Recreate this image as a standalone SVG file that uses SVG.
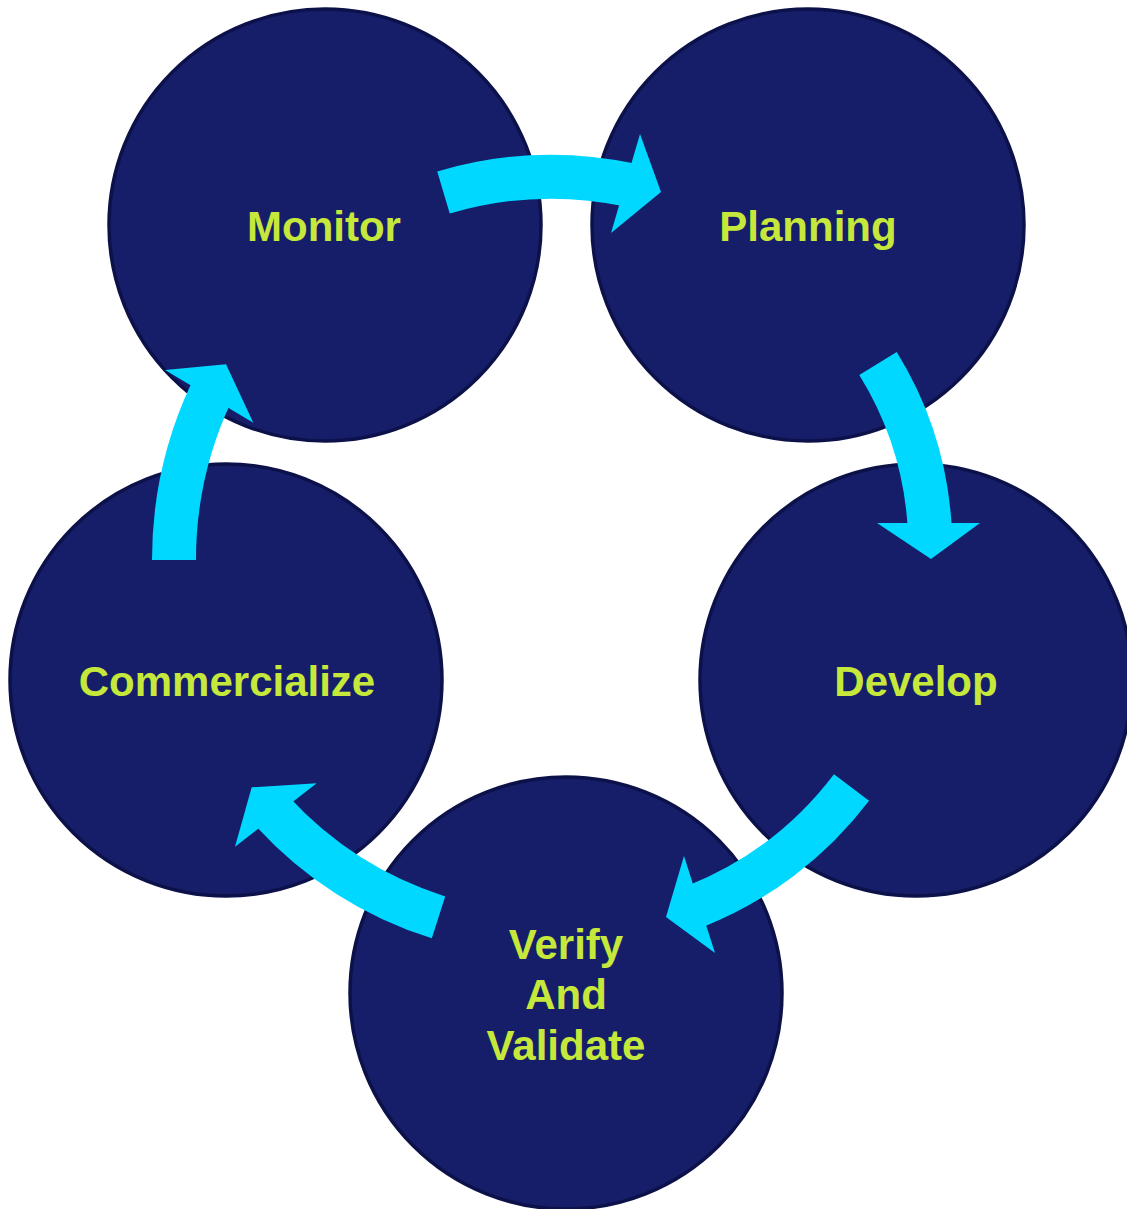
<svg xmlns="http://www.w3.org/2000/svg" width="1127" height="1209" viewBox="0 0 1127 1209">
  <style>
    .stage { fill: #161E6A; stroke: #0C1249; stroke-width: 3.5; }
    .label { fill: #C5E83A; font-family: "Liberation Sans", Arial, sans-serif; font-weight: bold; font-size: 42px; text-anchor: middle; }
    .body { fill: none; stroke: #00D8FF; stroke-width: 44; stroke-linecap: butt; }
    .head { fill: #00D8FF; }
  </style>
  <rect width="1127" height="1209" fill="#FFFFFF"/>

  <g id="node-monitor">
    <circle class="stage" cx="325" cy="225" r="216"/>
    <text class="label" x="324" y="241">Monitor</text>
  </g>
  <g id="node-planning">
    <circle class="stage" cx="808" cy="225" r="216"/>
    <text class="label" x="808" y="241">Planning</text>
  </g>
  <g id="node-develop">
    <circle class="stage" cx="916" cy="680" r="216"/>
    <text class="label" x="916" y="696">Develop</text>
  </g>
  <g id="node-verify">
    <circle class="stage" cx="566" cy="993" r="216"/>
    <text class="label" x="566" y="959">Verify</text>
    <text class="label" x="566" y="1009">And</text>
    <text class="label" x="566" y="1060">Validate</text>
  </g>
  <g id="node-commercialize">
    <circle class="stage" cx="226" cy="680" r="216"/>
    <text class="label" x="227" y="696">Commercialize</text>
  </g>

  <g id="connectors">
    <!-- Monitor to Planning -->
    <path class="body" d="M 443.5 192.5 A 380 380 0 0 1 630 185"/>
    <polygon class="head" points="640,134 661,192 611,233"/>
    <!-- Planning to Develop -->
    <path class="body" d="M 878 363.5 A 350 350 0 0 1 929.7 527"/>
    <polygon class="head" points="877,523 980,523 931,559"/>
    <!-- Develop to Verify -->
    <path class="body" d="M 851.5 787.5 A 366 366 0 0 1 695 906.5"/>
    <polygon class="head" points="684,856 715,953 666,917"/>
    <!-- Verify to Commercialize -->
    <path class="body" d="M 438.5 917.4 A 384 384 0 0 1 272.4 811.5"/>
    <polygon class="head" points="316.7,783.3 251.7,787.3 235,846.7"/>
    <!-- Commercialize to Monitor -->
    <path class="body" d="M 174 560 A 394 394 0 0 1 211.3 392.5"/>
    <polygon class="head" points="165,370 226,364.3 253.3,422.7"/>
  </g>
</svg>
